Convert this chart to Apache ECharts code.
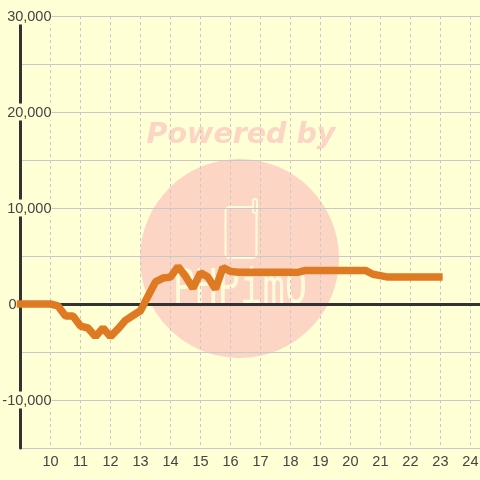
<!DOCTYPE html>
<html><head><meta charset="utf-8">
<style>html,body{margin:0;padding:0;background:#ffffd5}#c{width:480px;height:480px}</style>
<script src="https://cdn.jsdelivr.net/npm/echarts@6/dist/echarts.min.js"></script>
</head><body><div id="c"></div>
<script>
const hours = [9,10,10.25,10.5,10.75,11,11.25,11.5,11.75,12,12.25,12.5,12.75,13,13.25,13.5,13.75,14,14.25,14.5,14.75,15,15.25,15.5,15.75,16,16.25,18.25,18.5,20.5,20.75,21,21.25,22.95];
const values = [0,0,-200,-1250,-1250,-2300,-2500,-3400,-2500,-3400,-2600,-1700,-1200,-700,800,2300,2700,2800,3900,2900,1650,3250,2800,1550,3800,3400,3300,3300,3500,3500,3100,2950,2800,2800];
const xMin = 9, xMax = 24.32, xStep = 1;
const xTicks = [10,11,12,13,14,15,16,17,18,19,20,21,22,23,24];
const yMin = -15000, yMax = 30000, yStep = 5000;
const labelledY = [-10000,0,10000,20000,30000];
const watermarkTitle = 'Powered by';
const watermarkName = 'PHPimO';

const bg = '#ffffd5', ink = '#444444', dark = '#333333', grid = '#c8c8cc', wm = '#fcd5c4', wmLine = '#fffbd8';
const chart = echarts.init(document.getElementById('c'), null, {renderer:'canvas'});
const fmt = v => {
  if (!labelledY.includes(v)) return '';
  if (v === 0) return '{z|0}';
  return '{l|' + v.toLocaleString('en-US') + '}';
};
chart.setOption({
  animation:false,
  backgroundColor:bg,
  textStyle:{fontFamily:'Liberation Sans'},
  grid:{left:20.5,right:0,top:16,bottom:32,containLabel:false,outerBoundsMode:'none'},
  graphic:[
    {type:'circle',silent:true,z:-5,shape:{cx:239.5,cy:258.5,r:99.5},style:{fill:wm}},
    {type:'text',silent:true,z:-5,x:241,y:136,style:{text:watermarkTitle,fill:wm,font:'italic bold 28.5px "DejaVu Sans"',align:'center',verticalAlign:'middle'}},
    {type:'rect',silent:true,z:-4,shape:{x:225.5,y:207,width:31,height:51,r:4},style:{fill:'none',stroke:wmLine,lineWidth:2}},
    {type:'rect',silent:true,z:-4,shape:{x:253,y:199,width:4,height:14,r:2},style:{fill:wm,stroke:wmLine,lineWidth:2}},
    {type:'text',silent:true,z:-4,x:240,y:291,scaleX:1.55,scaleY:2,originX:0,originY:0,style:{text:watermarkName,fill:wmLine,font:'24px "DejaVu Sans Mono"',align:'center',verticalAlign:'middle'}}
  ],
  xAxis:{type:'value',min:xMin,max:xMax,interval:xStep,position:'bottom',
     axisLine:{show:false},axisTick:{show:false},
     axisLabel:{color:ink,fontSize:14.5,margin:6,formatter:v=>String(v),customValues:xTicks,alignMaxLabel:'center',alignMinLabel:'center',hideOverlap:false},
     splitLine:{show:true,lineStyle:{color:grid,type:[3,3],width:1}}},
  yAxis:{type:'value',min:yMin,max:yMax,interval:yStep,position:'left',
    axisLine:{show:true,lineStyle:{color:dark,width:3}},axisTick:{show:false},
    axisLabel:{margin:-31,align:'right',formatter:fmt,
      rich:{l:{color:ink,fontSize:14.5,fontFamily:'Liberation Sans',backgroundColor:bg,height:16,lineHeight:16,padding:[1,0,0,0]},
            z:{color:ink,fontSize:14.5,fontFamily:'Liberation Sans',padding:[1,35,0,0]}}},
    splitLine:{show:true,lineStyle:{color:grid,width:1}}},
  series:[
   {type:'line',data:[],z:1,silent:true,
    markLine:{silent:true,symbol:'none',label:{show:false},animation:false,z:1,
      lineStyle:{color:dark,width:3,type:'solid'},data:[{yAxis:0}]}},
   {type:'line',data:hours.map((h,i)=>[h,values[i]]),showSymbol:false,smooth:false,clip:false,z:5,
    lineStyle:{color:'#e07a22',width:7.5,cap:'square',join:'bevel'}}]
});
</script></body></html>
